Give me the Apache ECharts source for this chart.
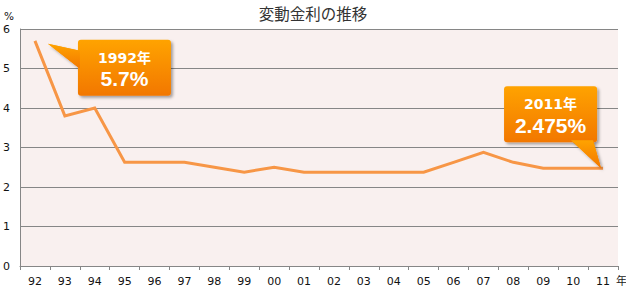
<!DOCTYPE html>
<html><head><meta charset="utf-8">
<script src="https://cdn.jsdelivr.net/npm/echarts@6/dist/echarts.min.js"></script>
<style>html,body{margin:0;padding:0;background:#fff}#c{width:626px;height:291px}</style>
</head><body><div id="c"></div>
<script>
const years = ['92','93','94','95','96','97','98','99','00','01','02','03','04','05','06','07','08','09','10','11'];
const rates = [5.7,3.8,4.0,2.625,2.625,2.625,2.5,2.375,2.5,2.375,2.375,2.375,2.375,2.375,2.625,2.875,2.625,2.475,2.475,2.475];
const titleText = '変動金利の推移';
const yUnit = '%';
const xUnit = '年';
const callouts = [
  {idx: 0, year: '1992年', value: '5.7%', side: 'right'},
  {idx: 19, year: '2011年', value: '2.475%', side: 'above'}
];
const axisFont = 'DejaVu Sans, Noto Sans CJK JP, sans-serif';
const chart = echarts.init(document.getElementById('c'), null, {renderer: 'svg'});
chart.setOption({
  animation: false,
  backgroundColor: '#fff',
  title: {text: titleText, left: 'center', top: 0,
    textStyle: {fontFamily: 'Noto Sans CJK JP', fontSize: 15.5, fontWeight: 'normal', color: '#333'}},
  grid: {left: 20, right: 8, top: 29, bottom: 25, show: true, backgroundColor: '#F9F0EF', borderWidth: 0,
    containLabel: false, outerBoundsMode: 'none'},
  xAxis: {type: 'category', data: years, boundaryGap: true,
    name: xUnit, nameLocation: 'end', nameGap: -6,
    nameTextStyle: {fontFamily: 'Noto Sans CJK JP', fontSize: 11, color: '#222', align: 'left', verticalAlign: 'top', padding: [9, 0, 0, 0]},
    axisLine: {lineStyle: {color: '#868686', width: 1}},
    axisTick: {show: true, interval: 0, length: 4, lineStyle: {color: '#868686'}},
    axisLabel: {interval: 0, margin: 10, fontFamily: axisFont, fontSize: 11, color: '#111'}},
  yAxis: {type: 'value', min: 0, max: 6, interval: 1,
    name: yUnit, nameLocation: 'end', nameGap: 8,
    nameTextStyle: {fontFamily: axisFont, fontSize: 10.5, color: '#111', align: 'right', padding: [0, 6, 0, 0]},
    axisLine: {show: true, lineStyle: {color: '#868686', width: 1}},
    axisTick: {show: false},
    splitLine: {lineStyle: {color: '#868686', width: 1}},
    axisLabel: {margin: 10, fontFamily: axisFont, fontSize: 11, color: '#111'}},
  series: [{type: 'line', data: rates, symbol: 'none',
    lineStyle: {color: '#F79646', width: 3, join: 'miter'}}]
});

function buildCallouts() {
  const grad = new echarts.graphic.LinearGradient(0, 0, 0, 1, [
    {offset: 0, color: '#FFA300'}, {offset: 1, color: '#F27700'}]);
  const els = [];
  callouts.forEach(c => {
    const p = chart.convertToPixel({seriesIndex: 0}, [c.idx, rates[c.idx]]);
    let bx, by, tri;
    const w = 93, h = 56;
    if (c.side === 'right') {
      bx = p[0] + 43; by = p[1] - 1;
      tri = [[p[0] + 13, p[1] + 3], [bx + 2, by + 11], [bx + 2, by + 29]];
    } else {
      bx = p[0] - 99; by = p[1] - 82;
      tri = [[bx + 67, by + h - 2], [bx + 89, by + h - 2], [p[0] - 2, p[1]]];
    }
    const shadow = {shadowBlur: 3, shadowOffsetX: 2, shadowOffsetY: 2, shadowColor: 'rgba(0,0,0,0.35)'};
    els.push({type: 'polygon', shape: {points: tri}, style: Object.assign({fill: grad}, shadow), z: 100});
    els.push({type: 'rect', shape: {x: bx, y: by, width: w, height: h, r: 3}, style: Object.assign({fill: grad}, shadow), z: 101});
    els.push({type: 'polygon', shape: {points: tri}, style: {fill: grad}, z: 102});
    els.push({type: 'text', x: bx + w / 2, y: by + 18, z: 103,
      style: {text: c.year, fill: '#fff', font: 'bold 14px DejaVu Sans, Noto Sans CJK JP, sans-serif', align: 'center', verticalAlign: 'middle'}});
    els.push({type: 'text', x: bx + w / 2, y: by + 39, z: 103,
      style: {text: c.value, fill: '#fff', font: 'bold 21px Liberation Sans, Noto Sans CJK JP, sans-serif', align: 'center', verticalAlign: 'middle'}});
  });
  chart.setOption({graphic: els});
}
buildCallouts();
</script></body></html>
